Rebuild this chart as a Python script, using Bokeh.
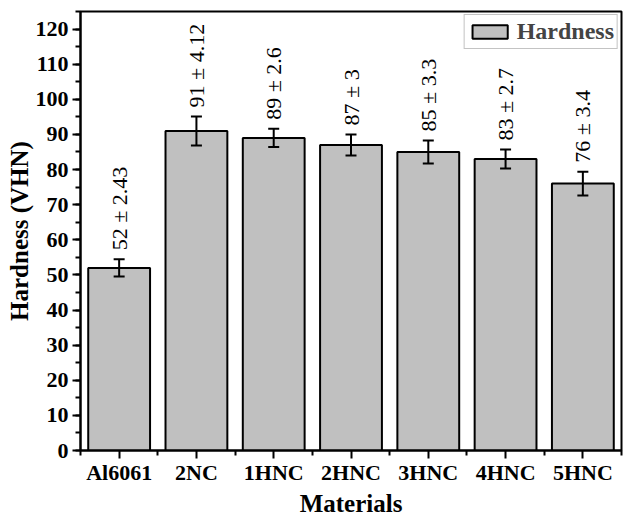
import numpy as np
from bokeh.plotting import figure
from bokeh.models import (ColumnDataSource, Range1d, FixedTicker, Whisker, TeeHead, Title)
from bokeh.embed import file_html
from bokeh.resources import INLINE

categories = ["Al6061", "2NC", "1HNC", "2HNC", "3HNC", "4HNC", "5HNC"]
hardness = [52, 91, 89, 87, 85, 83, 76]
errors = [2.43, 4.12, 2.6, 3, 3.3, 2.7, 3.4]
y_ticks = list(range(0, 121, 10))

FONT = "Liberation Serif"

x = list(range(len(categories)))
src = ColumnDataSource(data=dict(
    x=x,
    hardness=hardness,
    upper=[h + e for h, e in zip(hardness, errors)],
    lower=[h - e for h, e in zip(hardness, errors)],
    label=[f"{h:g} \u00b1 {e:g}" for h, e in zip(hardness, errors)],
))

p = figure(width=623, height=516, output_backend="svg", toolbar_location=None,
           x_range=Range1d(-0.5, len(categories) - 0.5), y_range=Range1d(0, 125),
           min_border_left=80, min_border_right=2, min_border_top=11, min_border_bottom=0)

p.vbar(x="x", top="hardness", width=0.8, source=src, fill_color="#c0c0c0",
       line_color="black", line_width=2, legend_label="Hardness")

w = Whisker(source=src, base="x", upper="upper", lower="lower", line_width=2,
            line_color="black", level="annotation",
            upper_head=TeeHead(size=11, line_width=2, line_color="black"),
            lower_head=TeeHead(size=11, line_width=2, line_color="black"))
p.add_layout(w)

p.text(x="x", y="upper", text="label", source=src, angle=np.pi / 2,
       text_align="left", text_baseline="middle", y_offset=-9,
       text_font={"value": FONT}, text_font_size="22px", text_color="black")

p.xgrid.visible = False
p.ygrid.visible = False
p.outline_line_color = "black"
p.outline_line_width = 2
p.outline_line_alpha = 1

p.xaxis.ticker = FixedTicker(ticks=x, minor_ticks=[i - 0.5 for i in range(len(categories) + 1)])
p.xaxis.major_label_overrides = {i: c for i, c in enumerate(categories)}
p.yaxis.ticker = FixedTicker(ticks=y_ticks, minor_ticks=list(range(0, 126, 5)))

for ax in (p.xaxis[0], p.yaxis[0]):
    ax.axis_line_width = 2
    ax.axis_line_color = "black"
    ax.major_tick_line_width = 2
    ax.minor_tick_line_width = 2
    ax.major_tick_out = 8
    ax.major_tick_in = 0
    ax.minor_tick_out = 5
    ax.minor_tick_in = 0
    ax.major_label_text_font = FONT
    ax.major_label_text_font_style = "bold"
    ax.major_label_text_font_size = "22px"
    ax.major_label_text_color = "black"
    ax.axis_label_text_font = FONT
    ax.axis_label_text_font_style = "bold"
    ax.axis_label_text_font_size = "25px"
    ax.axis_label_text_color = "black"

p.yaxis.axis_label = "Hardness (VHN)"
p.xaxis.major_label_standoff = 1
p.yaxis.major_label_standoff = 4
p.yaxis.axis_label_standoff = 0

x_title = Title(text="Materials", align="center", standoff=0, offset=0,
                text_font=FONT, text_font_style="bold", text_font_size="25px",
                text_color="black")
p.add_layout(x_title, "below")

lg = p.legend[0]
lg.location = "top_right"
lg.margin = 3
lg.padding = 3
lg.border_line_color = "#888888"
lg.border_line_width = 1.5
lg.label_text_font = FONT
lg.label_text_font_style = "bold"
lg.label_text_font_size = "24px"
lg.glyph_width = 44
lg.glyph_height = 17
lg.label_standoff = 5
lg.background_fill_color = "white"
lg.background_fill_alpha = 1

open("out.html", "w").write(file_html(p, INLINE))
